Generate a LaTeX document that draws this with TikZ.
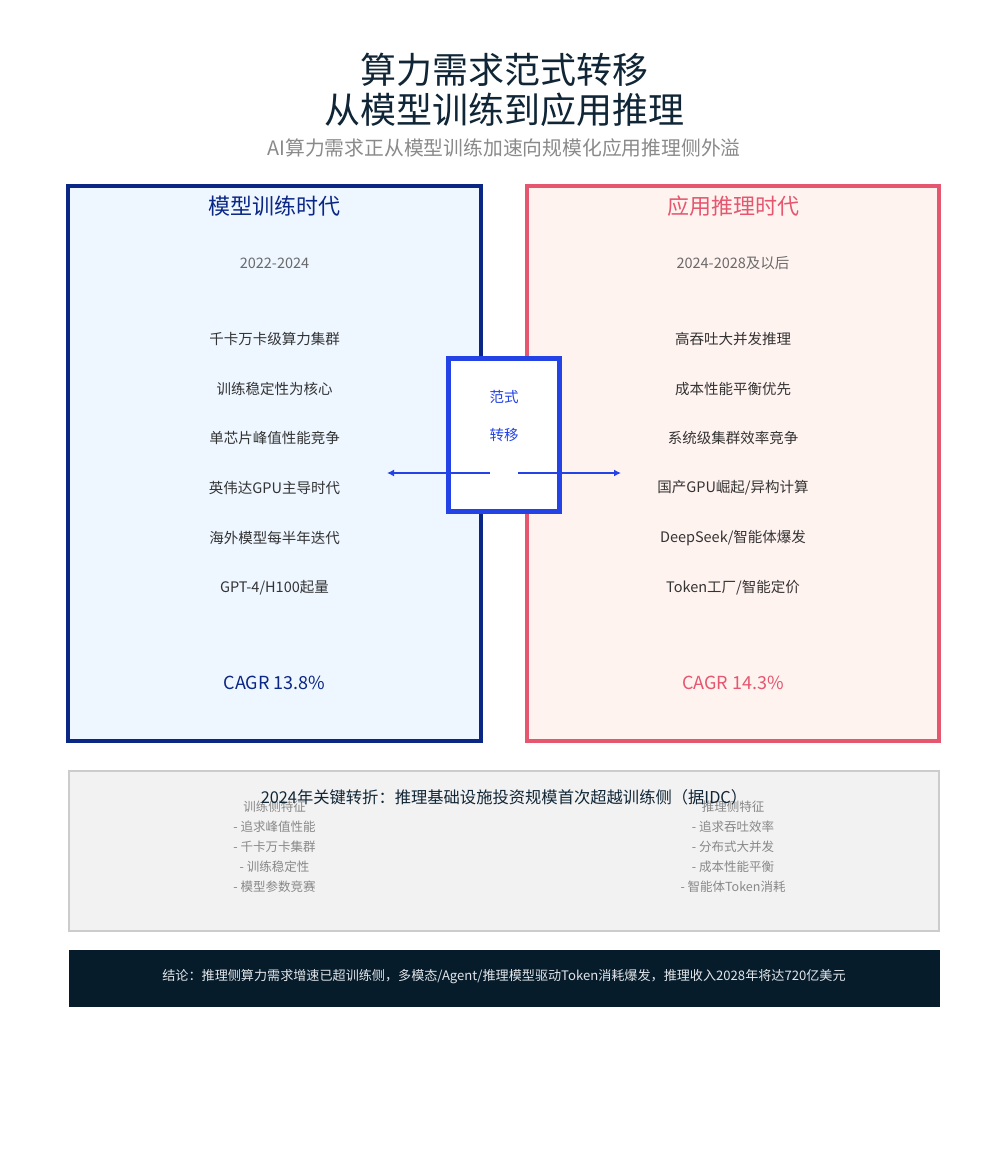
\documentclass[tikz,border=0pt]{standalone}
\usepackage{fontspec}
\setmainfont{Noto Sans CJK SC}
\usetikzlibrary{arrows.meta}
\definecolor{titlec}{HTML}{102535}
\definecolor{subc}{HTML}{8A8A8A}
\definecolor{navyc}{HTML}{0B2785}
\definecolor{pinkc}{HTML}{E5566F}
\definecolor{bluec}{HTML}{2443E6}
\definecolor{lbluef}{HTML}{EEF6FF}
\definecolor{lpinkf}{HTML}{FFF3F0}
\definecolor{itemc}{HTML}{333333}
\definecolor{yearc}{HTML}{6A6A6A}
\definecolor{grayf}{HTML}{F2F2F2}
\definecolor{grayb}{HTML}{CCCCCC}
\definecolor{colc}{HTML}{888888}
\definecolor{footf}{HTML}{071C2B}
\definecolor{foott}{HTML}{E2E6EA}
\newcommand{\fs}[1]{\fontsize{#1}{#1}\selectfont}
\tikzset{
  txt/.style={inner sep=0pt, anchor=center},
  bigtitle/.style={txt, text=titlec, font=\fs{36}},
  subtitle/.style={txt, text=subc, font=\fs{19.8}},
  itemtxt/.style={txt, text=itemc, font=\fs{14.5}},
  yeartxt/.style={txt, text=yearc, font=\fs{14.5}},
  coltxt/.style={txt, text=colc, font=\fs{12.5}},
  arr/.style={draw=bluec, line width=2pt, -{Latex[length=7pt,width=7pt]}}
}
\begin{document}
\begin{tikzpicture}[x=1pt,y=-1pt]
\useasboundingbox[fill=white] (0,0) rectangle (1008,1176);
% titles
\node[bigtitle] (t1) at (504,70) {算力需求范式转移};
\node[bigtitle] (t2) at (504,110) {从模型训练到应用推理};
\node[subtitle] (sub) at (504,148) {AI算力需求正从模型训练加速向规模化应用推理侧外溢};
% left box
\draw[draw=navyc, fill=lbluef, line width=3.5pt] (68,186) rectangle (481,741);
\node[txt, text=navyc, font=\fs{22}] (lt) at (274.5,206) {模型训练时代};
\node[yeartxt] (ly) at (274.5,263) {2022-2024};
\node[itemtxt] (l1) at (274.5,339) {千卡万卡级算力集群};
\node[itemtxt] (l2) at (274.5,389) {训练稳定性为核心};
\node[itemtxt] (l3) at (274.5,438) {单芯片峰值性能竞争};
\node[itemtxt] (l4) at (274.5,488) {英伟达GPU主导时代};
\node[itemtxt] (l5) at (274.5,538) {海外模型每半年迭代};
\node[itemtxt] (l6) at (274.5,588) {GPT-4/H100起量};
\node[txt, text=navyc, font=\fs{18}] (lc) at (274.5,683) {CAGR 13.8\%};
% right box
\draw[draw=pinkc, fill=lpinkf, line width=3.5pt] (527,186) rectangle (939,741);
\node[txt, text=pinkc, font=\fs{22}] (rt) at (733,206) {应用推理时代};
\node[yeartxt] (ry) at (733,263) {2024-2028及以后};
\node[itemtxt] (r1) at (733,339) {高吞吐大并发推理};
\node[itemtxt] (r2) at (733,389) {成本性能平衡优先};
\node[itemtxt] (r3) at (733,438) {系统级集群效率竞争};
\node[itemtxt] (r4) at (733,488) {国产GPU崛起/异构计算};
\node[itemtxt] (r5) at (733,538) {DeepSeek/智能体爆发};
\node[itemtxt] (r6) at (733,588) {Token工厂/智能定价};
\node[txt, text=pinkc, font=\fs{18}] (rc) at (733,683) {CAGR 14.3\%};
% middle shift box
\draw[draw=bluec, fill=white, line width=5pt] (448.5,358.5) rectangle (559.5,511.5);
\node[txt, text=bluec, font=\fs{14.5}] (m1) at (504,397) {范式};
\node[txt, text=bluec, font=\fs{14.5}] (m2) at (504,435) {转移};
\coordinate (al0) at (490,473);
\coordinate (al1) at (387,473);
\coordinate (ar0) at (518,473);
\coordinate (ar1) at (621,473);
\draw[arr] (al0) -- (al1);
\draw[arr] (ar0) -- (ar1);
% bottom gray box
\draw[draw=grayb, fill=grayf, line width=2pt] (69,771) rectangle (939,931);
\node[coltxt] (c0) at (274.5,807) {训练侧特征};
\node[coltxt] (c1) at (274.5,827) {- 追求峰值性能};
\node[coltxt] (c2) at (274.5,847) {- 千卡万卡集群};
\node[coltxt] (c3) at (274.5,867) {- 训练稳定性};
\node[coltxt] (c4) at (274.5,887) {- 模型参数竞赛};
\node[coltxt] (d0) at (733,807) {推理侧特征};
\node[coltxt] (d1) at (733,827) {- 追求吞吐效率};
\node[coltxt] (d2) at (733,847) {- 分布式大并发};
\node[coltxt] (d3) at (733,867) {- 成本性能平衡};
\node[coltxt] (d4) at (733,887) {- 智能体Token消耗};
\node[txt, text=titlec, font=\fs{16.3}] (bt) at (504,797) {2024年关键转折：推理基础设施投资规模首次超越训练侧（据IDC）};
% footer
\fill[footf] (69,950) rectangle (940,1007);
\node[txt, text=foott, font=\fs{13.1}] (ft) at (504,977) {结论：推理侧算力需求增速已超训练侧，多模态/Agent/推理模型驱动Token消耗爆发，推理收入2028年将达720亿美元};
\end{tikzpicture}
\end{document}
